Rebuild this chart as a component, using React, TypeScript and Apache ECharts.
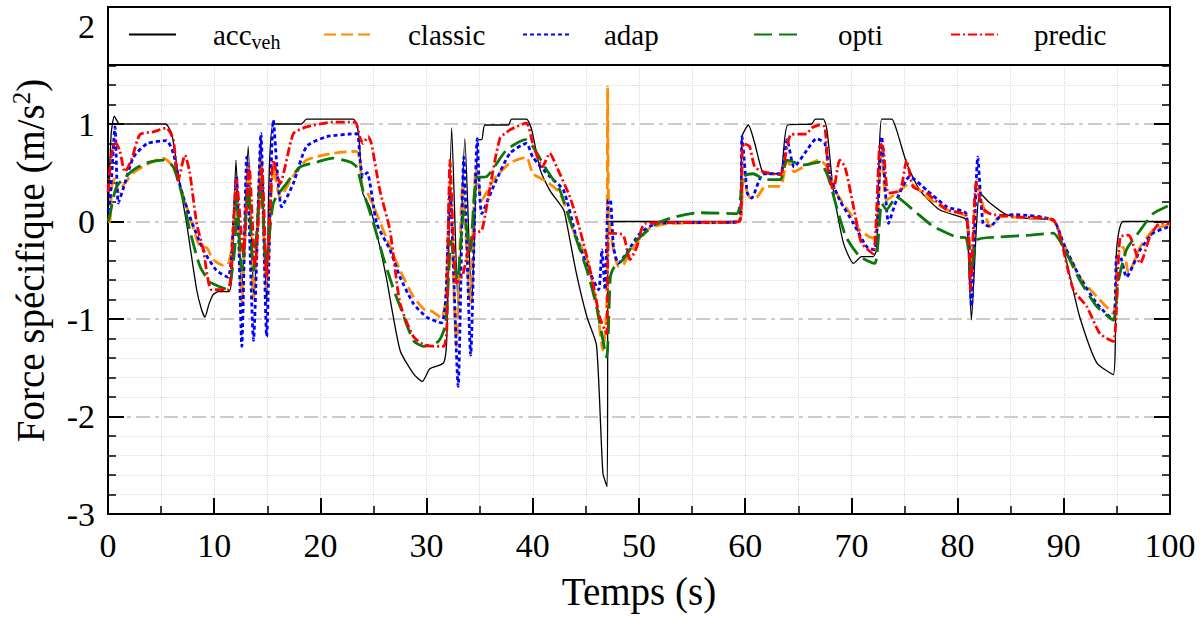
import React, { useEffect, useRef } from "react";
import * as echarts from "echarts";

const FONT = "Liberation Serif";

const seriesNames = ["acc", "classic", "adap", "opti", "predic"];
const xTicks = [0, 10, 20, 30, 40, 50, 60, 70, 80, 90, 100];
const yTicks = [-3, -2, -1, 0, 1, 2];

const accVeh: [number, number][] = [
  [0, 0], [0.3, 0.9], [0.6, 1.08], [1.1, 1.0], [5.4, 1.0], [6.0, 0.9], [6.6, 0.49], [7.4, -0.02],
  [8.35, -0.7], [8.8, -0.9], [9.13, -0.98], [9.5, -0.85], [9.9, -0.75], [10.4, -0.72], [11.4, -0.72],
  [11.7, -0.5], [12.05, 0.63], [12.6, -0.7], [13.2, 0.77], [13.75, -0.8], [14.38, 0.84], [14.94, -0.84],
  [15.57, 1.0], [18.2, 1.0], [18.7, 1.05], [23.1, 1.05], [23.6, 0.9], [24.0, 0.29], [24.65, 0.15],
  [25.3, -0.12], [26.2, -0.57], [27.5, -1.32], [28.75, -1.56], [29.6, -1.64], [30.3, -1.51], [31.6, -1.45],
  [31.9, -1.2], [32.36, 0.96], [32.97, -0.87], [33.6, 0.85], [34.25, -0.84], [34.87, 0.84], [35.2, 0.84],
  [35.5, 0.99], [37.7, 0.99], [38.0, 1.05], [39.4, 1.05], [39.9, 0.94], [40.7, 0.53], [41.6, 0.32],
  [42.9, 0.12], [43.2, -0.02], [44.1, -0.53], [45.1, -0.98], [46.0, -1.27], [46.6, -2.58], [47.0, -2.72],
  [47.1, 0], [59.45, 0], [59.7, 0.87], [60.3, 0.99], [60.9, 0.8], [61.55, 0.53], [62.0, 0.49], [63.3, 0.49],
  [64.0, 0.99], [66.25, 1.0], [66.6, 1.05], [67.35, 1.05], [67.7, 0.94], [68.3, 0.32], [69.25, -0.22],
  [70.2, -0.43], [70.95, -0.36], [72.05, -0.36], [72.37, -0.29], [72.85, 1.05], [73.8, 1.05], [74.25, 0.94],
  [75.2, 0.6], [76.45, 0.32], [78.3, 0.12], [80.7, 0.03], [80.9, -0.02], [81.3, -1.01], [81.8, 0],
  [82.1, 0.29], [83.05, 0.19], [84.6, 0.07], [86.8, 0.03], [89.0, 0.015], [89.6, -0.12], [90.6, -0.57],
  [91.5, -0.98], [93.1, -1.45], [94.66, -1.57], [94.97, -0.29], [95.6, 0], [100, 0],
];

const classic: [number, number][] = [
  [0, 0], [0.2, 0], [0.35, 0.36], [0.66, 0.45], [1.0, 0.3], [1.5, 0.38], [2.4, 0.5], [3.95, 0.6],
  [5.2, 0.65], [6.15, 0.56], [6.8, 0.36], [7.7, 0.05], [8.66, -0.26], [9.3, -0.27], [9.9, -0.39],
  [10.85, -0.45], [11.3, -0.44], [11.6, -0.3], [12.1, 0.36], [12.6, -0.84], [13.2, 0.56], [13.7, -0.8],
  [14.4, 0.66], [14.9, -0.7], [15.6, 0.56], [16.2, 0.25], [17.4, 0.46], [18.7, 0.63], [21.2, 0.7],
  [23.4, 0.72], [23.7, 0.63], [24.0, 0.32], [24.4, 0.3], [25.3, 0.08], [26.55, -0.26], [27.5, -0.5],
  [28.75, -0.77], [29.85, -0.91], [30.5, -0.92], [31.4, -0.99], [31.8, -0.8], [32.2, 0.39], [32.8, -1.28],
  [33.4, 0.39], [34.1, -0.84], [34.65, 0.56], [35.2, 0.22], [36.3, 0.43], [37.85, 0.6], [39.4, 0.66],
  [40.0, 0.49], [41.3, 0.41], [42.55, 0.29], [43.8, -0.09], [45.1, -0.39], [46.0, -0.84], [46.6, -1.32],
  [46.95, -0.9], [47.05, 1.38], [47.2, 0], [48.05, -0.46], [48.4, -0.46], [48.8, -0.39], [49.8, -0.22],
  [51.0, -0.07], [52.9, -0.02], [59.45, 0], [59.8, 0.43], [60.4, 0.25], [61.0, 0.24], [61.9, 0.36],
  [63.3, 0.36], [63.95, 0.63], [64.6, 0.51], [65.8, 0.58], [67.0, 0.63], [67.7, 0.56], [68.6, 0.29],
  [69.9, 0.08], [70.8, -0.09], [72.05, -0.17], [72.4, -0.1], [72.85, 0.77], [73.3, 0.22], [74.25, 0.29],
  [75.5, 0.39], [77.1, 0.25], [79.0, 0.12], [80.8, 0.05], [81.3, -0.53], [81.8, 0.43], [83.05, -0.05],
  [84.0, 0.05], [86.0, 0.04], [89.0, 0.015], [89.95, -0.22], [91.5, -0.57], [93.1, -0.77], [94.66, -0.94],
  [95.1, -0.36], [95.6, -0.26], [96.1, -0.53], [97.2, -0.26], [98.4, -0.09], [100, -0.03],
];

const adap: [number, number][] = [
  [0, 0.1], [0.2, 0.22], [0.66, 0.97], [0.97, 0.19], [1.5, 0.36], [2.4, 0.66], [3.7, 0.8], [5.5, 0.83],
  [6.15, 0.7], [6.8, 0.36], [7.7, 0.05], [8.97, -0.29], [10.2, -0.5], [11.3, -0.57], [11.6, -0.4],
  [12.1, 0.46], [12.6, -1.28], [13.06, 0.66], [13.7, -1.22], [14.4, 0.9], [14.94, -1.18], [15.57, 1.04],
  [16.35, 0.15], [17.45, 0.39], [18.7, 0.77], [20.6, 0.87], [23.4, 0.9], [23.7, 0.66], [24.0, 0.46],
  [24.4, 0.5], [25.3, -0.02], [26.55, -0.29], [27.5, -0.57], [28.75, -0.84], [30.0, -0.98], [31.4, -1.04],
  [31.8, -0.8], [32.2, 0.32], [32.97, -1.69], [33.5, 0.66], [34.15, -1.37], [34.77, 0.85], [35.2, 0.08],
  [36.3, 0.36], [37.85, 0.7], [39.4, 0.8], [40.0, 0.66], [41.6, 0.46], [42.9, 0.32], [44.1, -0.16],
  [45.4, -0.53], [46.2, -0.7], [46.5, -0.29], [46.8, -0.7], [47.1, 0.22], [47.3, 0.22], [47.6, -0.26],
  [48.05, -0.43], [48.8, -0.33], [50.1, -0.12], [51.7, -0.02], [59.45, 0], [59.7, 0.87], [60.2, 0.29],
  [60.6, 0.24], [61.7, 0.49], [63.3, 0.49], [63.95, 0.84], [64.6, 0.56], [65.8, 0.73], [66.7, 0.85],
  [67.5, 0.8], [68.0, 0.46], [68.9, 0.22], [70.2, -0.02], [71.45, -0.26], [72.2, -0.29], [72.85, 0.87],
  [73.5, -0.02], [74.25, 0.22], [75.5, 0.46], [77.1, 0.32], [79.0, 0.15], [80.8, 0.08], [81.3, -0.87],
  [81.9, 0.66], [82.4, -0.02], [83.05, -0.05], [84.0, 0.05], [85.25, 0.07], [89.0, 0.015], [89.95, -0.22],
  [91.5, -0.57], [93.1, -0.84], [94.66, -1.01], [94.97, -0.36], [95.3, -0.36], [95.9, -0.57], [97.2, -0.29],
  [98.4, -0.12], [100, -0.05],
];

const opti: [number, number][] = [
  [0, 0], [0.2, 0.08], [0.82, 0.36], [2.4, 0.53], [3.6, 0.6], [5.2, 0.63], [6.15, 0.56], [7.1, 0.22],
  [7.7, -0.09], [8.66, -0.46], [9.6, -0.62], [10.55, -0.67], [11.3, -0.7], [11.95, -0.26], [12.1, 0.25],
  [12.6, -0.5], [13.2, 0.35], [13.7, -0.5], [14.4, 0.4], [14.9, -0.45], [15.57, 0.19], [16.8, 0.39],
  [18.1, 0.56], [19.65, 0.61], [21.2, 0.65], [22.8, 0.61], [23.4, 0.56], [24.0, 0.32], [25.0, -0.02],
  [25.9, -0.36], [26.9, -0.7], [27.5, -0.87], [28.75, -1.22], [29.7, -1.28], [31.1, -1.23], [31.8, -1.05],
  [32.3, -0.2], [32.9, -0.6], [33.5, 0.1], [34.1, -0.3], [34.7, 0.45], [35.65, 0.46], [37.5, 0.73],
  [39.3, 0.84], [40.0, 0.77], [41.3, 0.53], [42.55, 0.32], [43.8, -0.09], [45.1, -0.5], [46.0, -0.87],
  [46.95, -1.39], [47.3, -0.57], [47.6, -0.48], [48.5, -0.39], [49.8, -0.19], [51.7, -0.02], [53.5, 0.05],
  [55.7, 0.09], [59.2, 0.08], [59.8, 0.46], [60.75, 0.49], [61.9, 0.43], [63.3, 0.43], [63.95, 0.63],
  [65.5, 0.58], [67.0, 0.61], [67.8, 0.46], [68.6, 0.15], [69.5, -0.16], [70.8, -0.36], [72.2, -0.43],
  [72.85, 0.19], [73.3, 0.12], [74.25, 0.25], [75.8, 0.12], [77.7, -0.05], [79.9, -0.16], [80.8, -0.17],
  [81.3, -0.53], [81.8, -0.19], [83.7, -0.16], [86.8, -0.14], [89.0, -0.12], [89.95, -0.26], [91.5, -0.6],
  [93.1, -0.87], [94.66, -1.01], [95.1, -0.63], [95.9, -0.29], [97.2, -0.09], [98.4, 0.08], [100, 0.17],
];

const predic: [number, number][] = [
  [0, 0.3], [0.3, 0.66], [0.66, 0.82], [1.1, 0.73], [1.6, 0.51], [2.2, 0.63], [3.0, 0.89], [4.27, 0.92],
  [5.5, 0.96], [6.15, 0.84], [6.6, 0.42], [7.25, 0.68], [7.7, 0.5], [8.35, -0.02], [8.97, -0.29],
  [9.76, -0.7], [11.3, -0.7], [11.6, -0.5], [12.1, 0.43], [12.75, -0.33], [13.3, 0.56], [13.85, -0.46],
  [14.5, 0.56], [14.94, -0.57], [15.57, 0.63], [16.2, 0.39], [17.45, 0.9], [18.7, 0.97], [21.2, 1.02],
  [23.26, 1.02], [23.7, 0.87], [24.0, 0.8], [24.5, 0.87], [24.8, 0.8], [25.6, 0.32], [26.55, -0.09],
  [27.5, -0.84], [28.75, -1.18], [29.85, -1.27], [31.6, -1.28], [31.9, -1.1], [32.2, 0.63], [32.8, -0.63],
  [33.4, -0.55], [33.9, -0.3], [34.55, -0.12], [35.2, -0.09], [35.8, 0.25], [36.9, 0.85], [37.85, 0.94],
  [39.4, 1.01], [40.0, 0.8], [40.9, 0.56], [41.6, 0.7], [42.25, 0.56], [43.5, 0.25], [44.45, -0.09],
  [45.55, -0.57], [46.3, -0.98], [46.95, -1.15], [47.2, -0.12], [48.5, -0.14], [49.15, -0.39], [49.8, -0.26],
  [50.6, -0.02], [59.45, 0], [59.8, 0.8], [60.4, 0.77], [60.9, 0.56], [61.7, 0.51], [63.3, 0.48],
  [63.95, 0.77], [64.3, 0.89], [65.8, 0.9], [66.25, 0.96], [67.0, 0.99], [67.5, 0.97], [67.8, 0.53],
  [68.3, 0.32], [68.9, 0.63], [69.4, 0.56], [70.2, 0.15], [70.95, -0.22], [72.05, -0.33], [72.7, 0.8],
  [73.0, 0.75], [73.5, 0.29], [74.6, 0.32], [75.2, 0.63], [75.8, 0.36], [77.1, 0.29], [79.0, 0.12],
  [80.8, 0.06], [81.2, -0.7], [81.75, 0.39], [82.3, 0.15], [83.05, 0.08], [85.25, 0.05], [89.0, 0.015],
  [89.8, -0.22], [90.9, -0.7], [92.15, -0.87], [93.4, -1.15], [94.66, -1.23], [95.3, -0.16], [96.1, -0.14],
  [97.2, -0.43], [98.1, -0.16], [99.05, -0.02], [100, -0.02],
];

const seriesData = [accVeh, classic, adap, opti, predic];
const colors = ["#000000", "#ff8c00", "#0000ff", "#0a780a", "#ff0000"];
const widths = [1.3, 2.8, 2.8, 2.8, 2.8];
const dashes: any[] = ["solid", [12, 5], [4, 3], [18, 7], [9, 3, 2, 3]];
const legendLeft = [128, 323, 522, 753, 950];
const legendPad = [32, 32, 29, 32, 31];

function buildOption() {
  const axisLineStyle = { color: "#000", width: 2 };
  const yLabel = (v: number) =>
    Math.abs(v - Math.round(v)) < 1e-6 && yTicks.includes(Math.round(v)) ? String(Math.round(v)) : "";
  const xLabel = (v: number) => (xTicks.includes(v) ? String(v) : "");
  return {
    animation: false,
    backgroundColor: "#ffffff",
    textStyle: { fontFamily: FONT },
    grid: { left: 108, right: 32, top: 7, bottom: 103, containLabel: false },
    xAxis: [
      {
        type: "value",
        min: 0,
        max: 100,
        interval: 10,
        position: "bottom",
        axisLine: { show: true, onZero: false, lineStyle: axisLineStyle },
        axisTick: { show: true, inside: true, length: 16, lineStyle: { color: "#000", width: 2 } },
        minorTick: { show: true, splitNumber: 2, length: 8, lineStyle: { color: "#000", width: 1.5 } },
        axisLabel: { formatter: xLabel, fontFamily: FONT, fontSize: 34, color: "#000", margin: 14 },
        splitLine: { show: true, lineStyle: { color: "#d9d9d9", type: "dotted", width: 1 } },
        minorSplitLine: { show: true, lineStyle: { color: "#d9d9d9", type: "dotted", width: 1 } },
        name: "Temps (s)",
        nameLocation: "middle",
        nameGap: 58,
        nameTextStyle: { fontFamily: FONT, fontSize: 39, color: "#000" },
      },
      {
        type: "value",
        min: 0,
        max: 100,
        interval: 10,
        position: "top",
        axisLine: { show: true, onZero: false, lineStyle: axisLineStyle },
        axisTick: { show: true, inside: true, length: 16, lineStyle: { color: "#000", width: 2 } },
        minorTick: { show: true, splitNumber: 2, length: 8, lineStyle: { color: "#000", width: 1.5 } },
        axisLabel: { show: false },
        splitLine: { show: false },
      },
    ],
    yAxis: [
      {
        type: "value",
        min: -3,
        max: 2.2,
        interval: 1,
        position: "left",
        axisLine: { show: true, onZero: false, lineStyle: axisLineStyle },
        axisTick: { show: true, inside: true, length: 16, lineStyle: { color: "#000", width: 2 } },
        minorTick: { show: true, splitNumber: 5, length: 8, lineStyle: { color: "#000", width: 1.5 } },
        axisLabel: {
          formatter: yLabel,
          fontFamily: FONT,
          fontSize: 34,
          color: "#000",
          margin: 13,
          padding: [7, 0, 0, 0],
        },
        splitLine: { show: true, lineStyle: { color: "#bdbdbd", type: [14, 5, 4, 5], width: 1.5 } },
        minorSplitLine: { show: true, lineStyle: { color: "#dedede", type: "dotted", width: 1 } },
        name: "{a|Force spécifique (m/s}{s|2}{a|)}",
        nameLocation: "middle",
        nameGap: 57,
        nameTextStyle: {
          color: "#000",
          fontFamily: FONT,
          rich: {
            a: { fontFamily: FONT, fontSize: 39, color: "#000", lineHeight: 42 },
            s: { fontFamily: FONT, fontSize: 25, color: "#000", lineHeight: 16, verticalAlign: "top" },
          },
        },
      },
      {
        type: "value",
        min: -3,
        max: 2.2,
        interval: 1,
        position: "right",
        axisLine: { show: true, onZero: false, lineStyle: axisLineStyle },
        axisTick: { show: true, inside: true, length: 16, lineStyle: { color: "#000", width: 2 } },
        minorTick: { show: true, splitNumber: 5, length: 8, lineStyle: { color: "#000", width: 1.5 } },
        axisLabel: { show: false },
        splitLine: { show: false },
      },
    ],
    graphic: [
      {
        type: "rect",
        z: 6,
        shape: { x: 108, y: 7, width: 1062, height: 58 },
        style: { fill: "#ffffff", stroke: "#000000", lineWidth: 2 },
      },
    ],
    legend: seriesNames.map((n, i) => ({
      data: [n],
      left: legendLeft[i],
      top: 20,
      padding: 0,
      z: 10,
      itemWidth: 47,
      itemHeight: 14,
      itemStyle: { opacity: 0, borderWidth: 0 },
      formatter: n === "acc" ? "{a|acc}{b|veh}" : "{a|" + n + "}",
      textStyle: {
        color: "#000",
        fontFamily: FONT,
        fontSize: 29,
        padding: [0, 0, 0, legendPad[i]],
        rich: {
          a: { fontFamily: FONT, fontSize: 29, color: "#000", lineHeight: 34 },
          b: { fontFamily: FONT, fontSize: 20, color: "#000", lineHeight: 14, verticalAlign: "bottom" },
        },
      },
    })),
    series: seriesNames.map((n, i) => ({
      name: n,
      type: "line",
      xAxisIndex: 0,
      yAxisIndex: 0,
      data: seriesData[i],
      symbol: "none",
      showSymbol: false,
      smooth: 0.2,
      z: 2 + i * 0.01,
      lineStyle: { color: colors[i], width: widths[i], type: dashes[i] },
      itemStyle: { color: colors[i] },
    })),
  };
}

export default function App() {
  const ref = useRef<HTMLDivElement>(null);
  useEffect(() => {
    document.body.style.margin = "0";
    const chart = echarts.init(ref.current as HTMLDivElement, null, { renderer: "svg" });
    chart.setOption(buildOption() as any);
    return () => chart.dispose();
  }, []);
  return <div ref={ref} style={{ width: 1202, height: 617, background: "#fff" }} />;
}
